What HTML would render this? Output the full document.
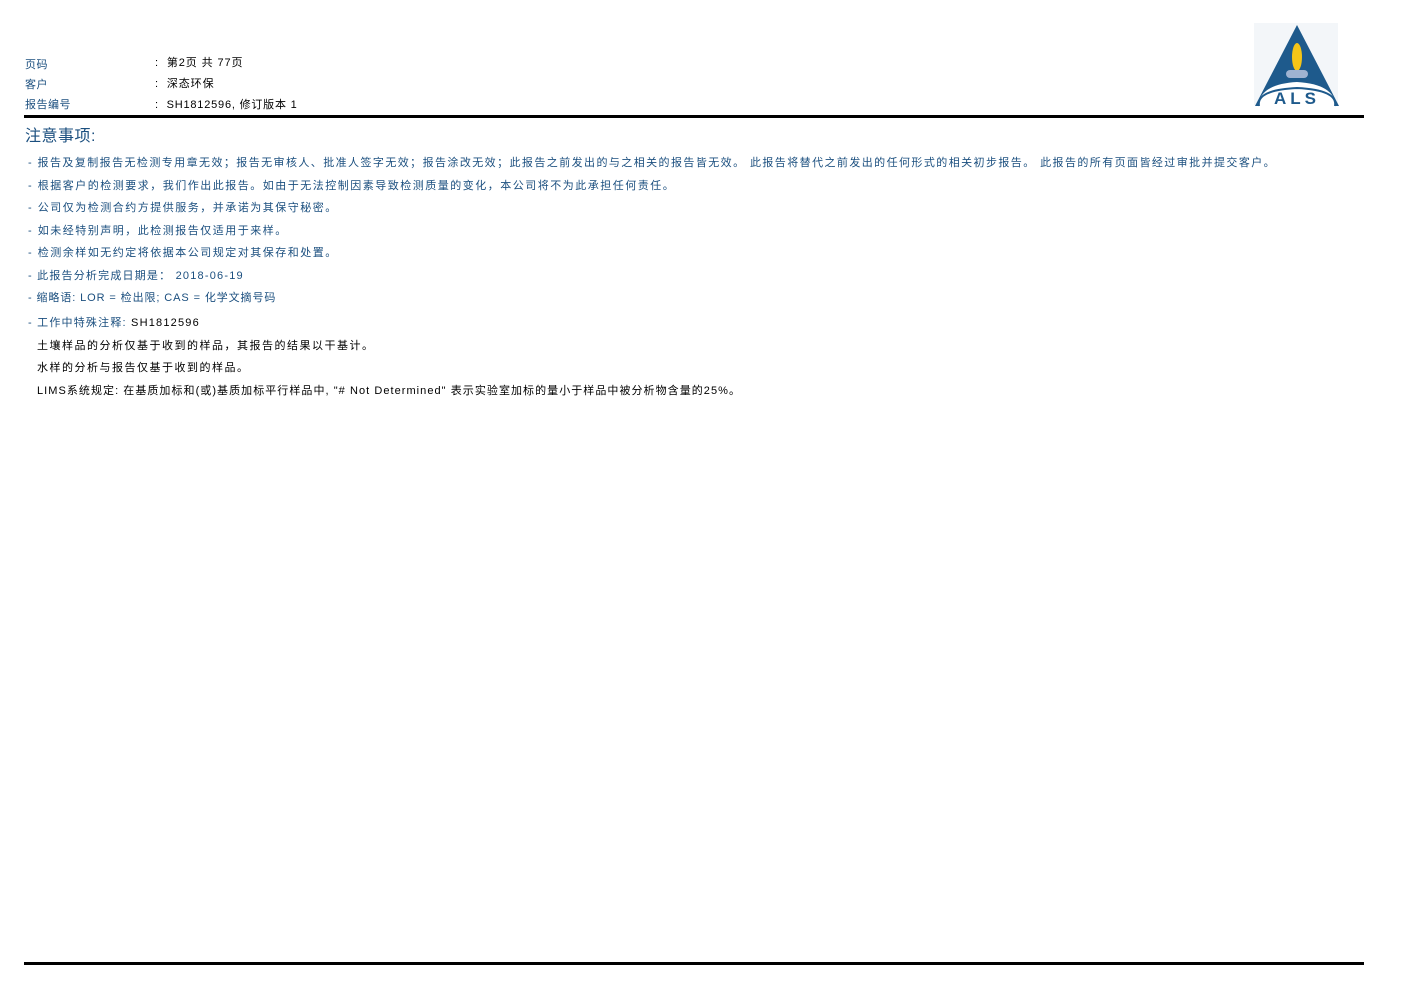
<!DOCTYPE html>
<html><head><meta charset="utf-8">
<style>
body{margin:0;width:1402px;height:992px;background:#fff;position:relative;overflow:hidden;font-family:"Liberation Sans","Noto Sans CJK SC",sans-serif;}
.t{position:absolute;white-space:nowrap;font-size:11px;line-height:13px;}
.b{color:#1b4f7f;}
.k{color:#000;}
.rule{position:absolute;left:24px;width:1340px;height:3px;background:#000;}
</style></head><body>
<div class="t b" style="left:25px;top:59px;letter-spacing:0.5px;">页码</div>
<div class="t b" style="left:25px;top:79px;letter-spacing:0.5px;">客户</div>
<div class="t b" style="left:25px;top:99px;letter-spacing:0.5px;">报告编号</div>
<div class="t k" style="left:155px;top:57px;letter-spacing:0.9px;">:&nbsp;&nbsp;第2页 共 77页</div>
<div class="t k" style="left:155px;top:78px;letter-spacing:0.9px;">:&nbsp;&nbsp;深态环保</div>
<div class="t k" style="left:155px;top:99px;letter-spacing:0.8px;">:&nbsp;&nbsp;SH1812596, 修订版本 1</div>
<svg style="position:absolute;left:1252px;top:22px" width="88" height="86" viewBox="0 0 88 86">
<rect x="2" y="1" width="84" height="82" fill="#f3f6f9"/>
<polygon points="45,3 3,84 87,84" fill="#1e5a8c"/>
<path d="M6,84 Q8,62 45,60 Q82,62 84,84 Z" fill="#fff"/>
<path d="M7,84 Q4,68 45,66 Q86,68 83,84" fill="none" stroke="#1e5a8c" stroke-width="2"/>
<ellipse cx="45" cy="35" rx="5" ry="14" fill="#f5c518"/>
<rect x="34" y="48" width="22" height="8" rx="4" fill="#9fb3d1"/>
<text x="45" y="82" text-anchor="middle" font-family="Liberation Sans" font-weight="bold" font-size="17" fill="#1e5a8c" letter-spacing="4">ALS</text>
</svg>
<div class="rule" style="top:115px;"></div>
<div class="t b" style="left:25px;top:128px;font-size:16px;line-height:18px;letter-spacing:0.5px;">注意事项:</div>
<div class="t b" style="left:28px;top:157px;letter-spacing:1.42px;">- 报告及复制报告无检测专用章无效；报告无审核人、批准人签字无效；报告涂改无效；此报告之前发出的与之相关的报告皆无效。 此报告将替代之前发出的任何形式的相关初步报告。 此报告的所有页面皆经过审批并提交客户。</div>
<div class="t b" style="left:28px;top:180px;letter-spacing:1.5px;">- 根据客户的检测要求，我们作出此报告。如由于无法控制因素导致检测质量的变化，本公司将不为此承担任何责任。</div>
<div class="t b" style="left:28px;top:202px;letter-spacing:1.5px;">- 公司仅为检测合约方提供服务，并承诺为其保守秘密。</div>
<div class="t b" style="left:28px;top:225px;letter-spacing:1.5px;">- 如未经特别声明，此检测报告仅适用于来样。</div>
<div class="t b" style="left:28px;top:247px;letter-spacing:1.5px;">- 检测余样如无约定将依据本公司规定对其保存和处置。</div>
<div class="t b" style="left:28px;top:270px;letter-spacing:1.2px;">- 此报告分析完成日期是： 2018-06-19</div>
<div class="t b" style="left:28px;top:292px;letter-spacing:0.9px;">- 缩略语: LOR = 检出限; CAS = 化学文摘号码</div>
<div class="t b" style="left:28px;top:317px;letter-spacing:1.2px;">- 工作中特殊注释: <span style="color:#000">SH1812596</span></div>
<div class="t k" style="left:37px;top:340px;letter-spacing:1.5px;">土壤样品的分析仅基于收到的样品，其报告的结果以干基计。</div>
<div class="t k" style="left:37px;top:362px;letter-spacing:1.5px;">水样的分析与报告仅基于收到的样品。</div>
<div class="t k" style="left:37px;top:385px;letter-spacing:1.05px;">LIMS系统规定: 在基质加标和(或)基质加标平行样品中, "# Not Determined" 表示实验室加标的量小于样品中被分析物含量的25%。</div>
<div class="rule" style="top:962px;"></div>
</body></html>
